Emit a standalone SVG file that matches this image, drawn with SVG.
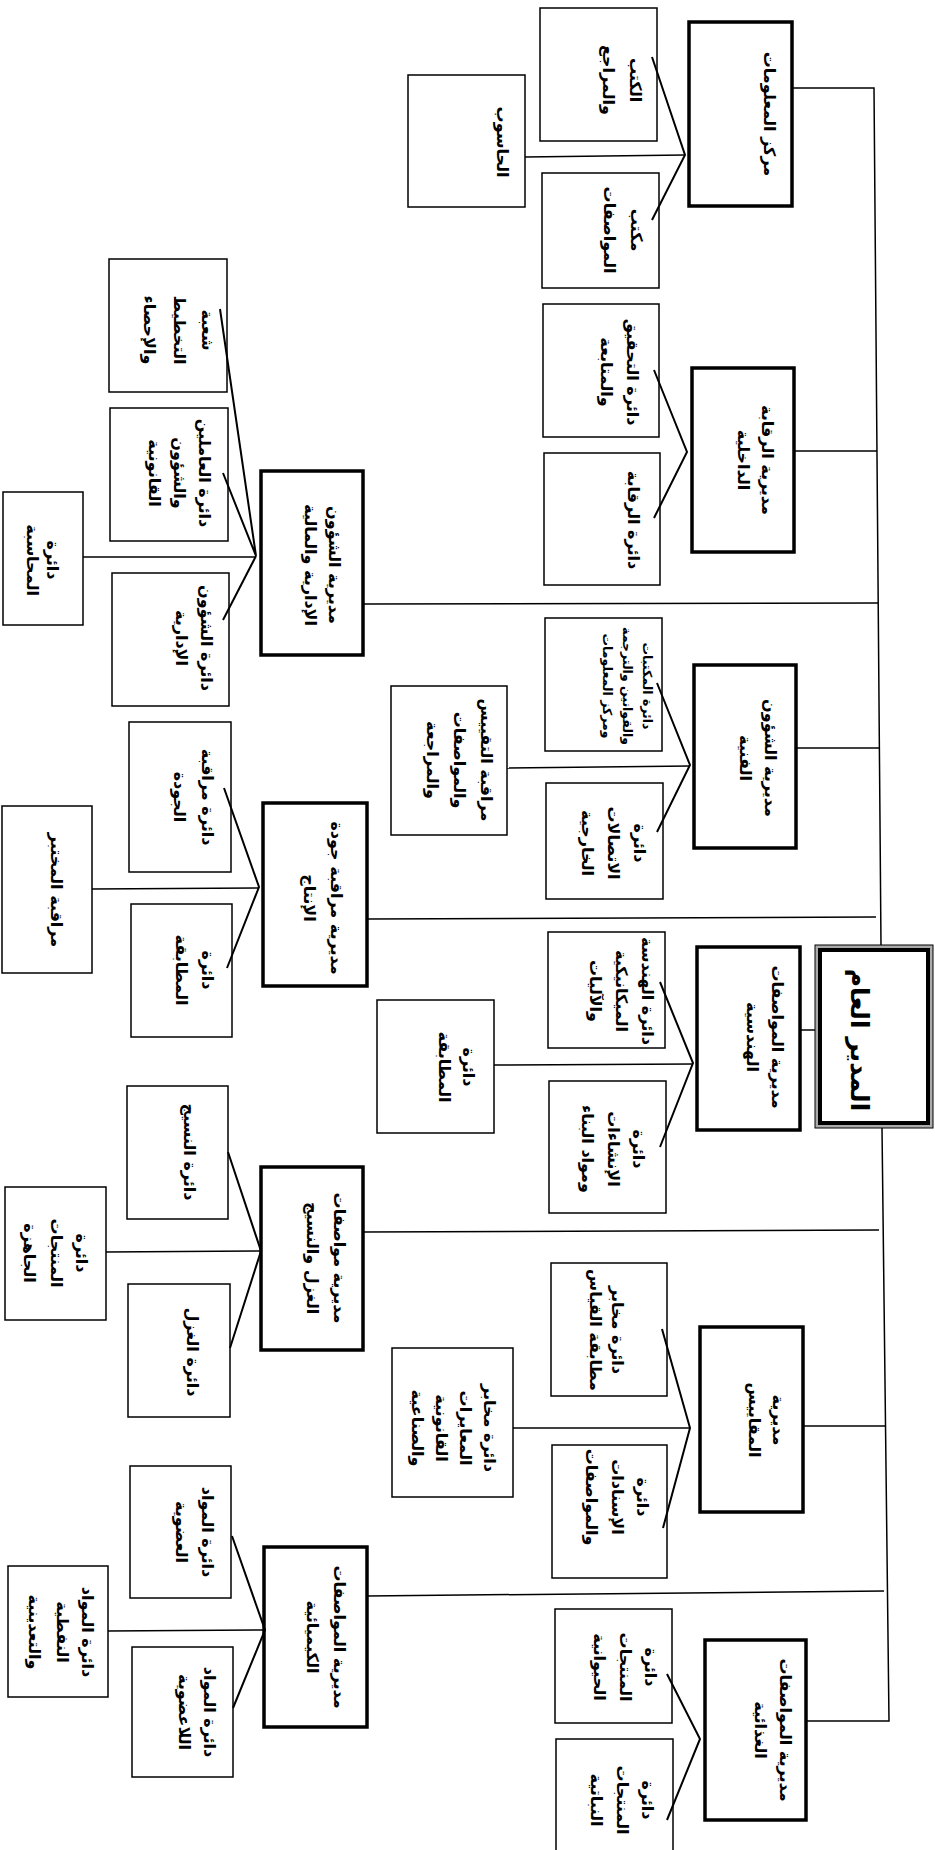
<svg xmlns="http://www.w3.org/2000/svg" width="935" height="1850" viewBox="0 0 935 1850">
<style>
rect{fill:#fff;stroke:#000}
.dir{stroke-width:3.5}
.box{stroke-width:1.5}
.ln{fill:none;stroke:#000;stroke-width:1.5}
.fk{fill:none;stroke:#000;stroke-width:2}
text{font-family:"DejaVu Sans",sans-serif;font-size:16px;font-weight:bold;text-anchor:middle;dominant-baseline:central;fill:#000}
.sm{font-size:12.5px}
.gm{font-size:25px}
</style>
<rect x="0" y="0" width="935" height="1850" style="stroke:none"/>
<g id="n-center"><rect class="dir" x="689" y="22" width="103" height="184"/><text transform="translate(770,114) rotate(90)"><tspan x="0" y="0">مركز المعلومات</tspan></text></g>
<g id="n-books"><rect class="box" x="540" y="8" width="117" height="133"/><text transform="translate(636,80) rotate(90)"><tspan x="0" y="0">الكتب</tspan><tspan x="0" y="27">والمراجع</tspan></text></g>
<g id="n-specoffice"><rect class="box" x="542" y="173" width="117" height="115"/><text transform="translate(637,230) rotate(90)"><tspan x="0" y="0">مكتب</tspan><tspan x="0" y="27">المواصفات</tspan></text></g>
<g id="n-computer"><rect class="box" x="408" y="75" width="117" height="132"/><text transform="translate(503,142) rotate(90)"><tspan x="0" y="0">الحاسوب</tspan></text></g>

<g id="n-audit"><rect class="dir" x="692" y="368" width="102" height="184"/><text transform="translate(768,460) rotate(90)"><tspan x="0" y="0">مديرية الرقابة</tspan><tspan x="0" y="24">الداخلية</tspan></text></g>
<g id="n-investigation"><rect class="box" x="543" y="304" width="116" height="133"/><text transform="translate(633,372) rotate(90)"><tspan x="0" y="0">دائرة التحقيق</tspan><tspan x="0" y="26">والمتابعة</tspan></text></g>
<g id="n-control"><rect class="box" x="544" y="453" width="116" height="132"/><text transform="translate(634,520) rotate(90)"><tspan x="0" y="0">دائرة الرقابة</tspan></text></g>

<g id="n-technical"><rect class="dir" x="694" y="665" width="102" height="183"/><text transform="translate(771,758) rotate(90)"><tspan x="0" y="0">مديرية الشؤون</tspan><tspan x="0" y="25">الفنية</tspan></text></g>
<g id="n-libraries"><rect class="box" x="545" y="618" width="117" height="133"/><text class="sm" transform="translate(648,686) rotate(90)"><tspan x="0" y="0">دائرة المكتبات</tspan><tspan x="0" y="20">والقوانين والترجمة</tspan><tspan x="0" y="40">ومركز المعلومات</tspan></text></g>
<g id="n-external"><rect class="box" x="546" y="783" width="117" height="116"/><text transform="translate(640,843) rotate(90)"><tspan x="0" y="0">دائرة</tspan><tspan x="0" y="26">الاتصالات</tspan><tspan x="0" y="52">الخارجية</tspan></text></g>
<g id="n-stdreview"><rect class="box" x="391" y="686" width="116" height="149"/><text transform="translate(487,760) rotate(90)"><tspan x="0" y="0">مراقبة التقييس</tspan><tspan x="0" y="27">والمواصفات</tspan><tspan x="0" y="54">والمراجعة</tspan></text></g>

<g id="n-engineering"><rect class="dir" x="697" y="947" width="103" height="183"/><text transform="translate(778,1037) rotate(90)"><tspan x="0" y="0">مديرية المواصفات</tspan><tspan x="0" y="25">الهندسية</tspan></text></g>
<g id="n-mech"><rect class="box" x="548" y="932" width="117" height="116"/><text transform="translate(648,991) rotate(90)"><tspan x="0" y="0">دائرة الهندسة</tspan><tspan x="0" y="26">الميكانيكية</tspan><tspan x="0" y="52">والآليات</tspan></text></g>
<g id="n-construction"><rect class="box" x="549" y="1081" width="117" height="132"/><text transform="translate(639,1149) rotate(90)"><tspan x="0" y="0">دائرة</tspan><tspan x="0" y="25">الإنشاءات</tspan><tspan x="0" y="51">ومواد البناء</tspan></text></g>
<g id="n-conformity-eng"><rect class="box" x="377" y="1000" width="117" height="133"/><text transform="translate(469,1067) rotate(90)"><tspan x="0" y="0">دائرة</tspan><tspan x="0" y="24">المطابقة</tspan></text></g>

<g id="n-gm"><rect x="815" y="945" width="118" height="183" style="fill:#aaa;stroke-width:1"/><rect x="820" y="950" width="108" height="173" style="stroke-width:4"/><text class="gm" transform="translate(860,1040) rotate(90)"><tspan x="0" y="0">المدير العام</tspan></text></g>

<g id="n-metrology"><rect class="dir" x="700" y="1327" width="103" height="185"/><text transform="translate(779,1420) rotate(90)"><tspan x="0" y="0">مديرية</tspan><tspan x="0" y="24">المقاييس</tspan></text></g>
<g id="n-measlab"><rect class="box" x="551" y="1263" width="116" height="133"/><text transform="translate(618,1330) rotate(90)"><tspan x="0" y="0">دائرة مخابر</tspan><tspan x="0" y="22">مطابقة القياس</tspan></text></g>
<g id="n-isnad"><rect class="box" x="552" y="1445" width="115" height="133"/><text transform="translate(643,1497) rotate(90)"><tspan x="0" y="0">دائرة</tspan><tspan x="0" y="25">الإسنادات</tspan><tspan x="0" y="51">والمواصفات</tspan></text></g>
<g id="n-calib"><rect class="box" x="392" y="1348" width="121" height="149"/><text transform="translate(490,1428) rotate(90)"><tspan x="0" y="0">دائرة مخابر</tspan><tspan x="0" y="24">المعايرات</tspan><tspan x="0" y="48">القانونية</tspan><tspan x="0" y="72">والصناعية</tspan></text></g>

<g id="n-food"><rect class="dir" x="705" y="1640" width="101" height="180"/><text transform="translate(786,1730) rotate(90)"><tspan x="0" y="0">مديرية المواصفات</tspan><tspan x="0" y="25">الغذائية</tspan></text></g>
<g id="n-animal"><rect class="box" x="555" y="1609" width="117" height="114"/><text transform="translate(651,1667) rotate(90)"><tspan x="0" y="0">دائرة</tspan><tspan x="0" y="25">المنتجات</tspan><tspan x="0" y="51">الحيوانية</tspan></text></g>
<g id="n-plant"><rect class="box" x="556" y="1739" width="117" height="120"/><text transform="translate(648,1800) rotate(90)"><tspan x="0" y="0">دائرة</tspan><tspan x="0" y="25">المنتجات</tspan><tspan x="0" y="51">النباتية</tspan></text></g>

<g id="n-admin"><rect class="dir" x="261" y="471" width="102" height="184"/><text transform="translate(335,565) rotate(90)"><tspan x="0" y="0">مديرية الشؤون</tspan><tspan x="0" y="24">الإدارية والمالية</tspan></text></g>
<g id="n-planning"><rect class="box" x="109" y="259" width="118" height="133"/><text transform="translate(208,330) rotate(90)"><tspan x="0" y="0">شعبة</tspan><tspan x="0" y="28">التخطيط</tspan><tspan x="0" y="58">والإحصاء</tspan></text></g>
<g id="n-staff"><rect class="box" x="110" y="408" width="118" height="133"/><text transform="translate(205,473) rotate(90)"><tspan x="0" y="0">دائرة العاملين</tspan><tspan x="0" y="25">والشؤون</tspan><tspan x="0" y="50">القانونية</tspan></text></g>
<g id="n-adminaff"><rect class="box" x="112" y="573" width="117" height="133"/><text transform="translate(207,638) rotate(90)"><tspan x="0" y="0">دائرة الشؤون</tspan><tspan x="0" y="25">الإدارية</tspan></text></g>
<g id="n-accounting"><rect class="box" x="3" y="492" width="80" height="133"/><text transform="translate(53,560) rotate(90)"><tspan x="0" y="0">دائرة</tspan><tspan x="0" y="20">المحاسبة</tspan></text></g>

<g id="n-quality"><rect class="dir" x="263" y="803" width="104" height="183"/><text transform="translate(337,898) rotate(90)"><tspan x="0" y="0">مديرية مراقبة جودة</tspan><tspan x="0" y="27">الإنتاج</tspan></text></g>
<g id="n-qc"><rect class="box" x="129" y="722" width="102" height="150"/><text transform="translate(208,797) rotate(90)"><tspan x="0" y="0">دائرة مراقبة</tspan><tspan x="0" y="28">الجودة</tspan></text></g>
<g id="n-conformity-q"><rect class="box" x="131" y="904" width="101" height="133"/><text transform="translate(208,970) rotate(90)"><tspan x="0" y="0">دائرة</tspan><tspan x="0" y="26">المطابقة</tspan></text></g>
<g id="n-labctrl"><rect class="box" x="2" y="806" width="90" height="167"/><text transform="translate(57,890) rotate(90)"><tspan x="0" y="0">مراقبة المختبر</tspan></text></g>

<g id="n-textile"><rect class="dir" x="261" y="1167" width="102" height="183"/><text transform="translate(340,1258) rotate(90)"><tspan x="0" y="0">مديرية مواصفات</tspan><tspan x="0" y="27">الغزل والنسيج</tspan></text></g>
<g id="n-weaving"><rect class="box" x="127" y="1086" width="101" height="133"/><text transform="translate(190,1152) rotate(90)"><tspan x="0" y="0">دائرة النسيج</tspan></text></g>
<g id="n-spinning"><rect class="box" x="128" y="1284" width="102" height="133"/><text transform="translate(193,1352) rotate(90)"><tspan x="0" y="0">دائرة الغزل</tspan></text></g>
<g id="n-ready"><rect class="box" x="5" y="1187" width="101" height="133"/><text transform="translate(82,1253) rotate(90)"><tspan x="0" y="0">دائرة</tspan><tspan x="0" y="25">المنتجات</tspan><tspan x="0" y="52">الجاهزة</tspan></text></g>

<g id="n-chemical"><rect class="dir" x="264" y="1547" width="103" height="180"/><text transform="translate(340,1637) rotate(90)"><tspan x="0" y="0">مديرية المواصفات</tspan><tspan x="0" y="27">الكيميائية</tspan></text></g>
<g id="n-organic"><rect class="box" x="130" y="1466" width="101" height="132"/><text transform="translate(208,1532) rotate(90)"><tspan x="0" y="0">دائرة المواد</tspan><tspan x="0" y="26">العضوية</tspan></text></g>
<g id="n-inorganic"><rect class="box" x="132" y="1647" width="101" height="130"/><text transform="translate(210,1712) rotate(90)"><tspan x="0" y="0">دائرة المواد</tspan><tspan x="0" y="25">اللاعضوية</tspan></text></g>
<g id="n-oil"><rect class="box" x="8" y="1566" width="100" height="131"/><text transform="translate(88,1632) rotate(90)"><tspan x="0" y="0">دائرة المواد</tspan><tspan x="0" y="25">النفطية</tspan><tspan x="0" y="53">والتعدينية</tspan></text></g>

<g id="connectors">
<polyline class="ln" points="792,88 874,88 881,945"/>
<polyline class="ln" points="882,1128 889,1721 806,1721"/>
<line class="ln" x1="794" y1="451" x2="877" y2="451"/>
<line class="ln" x1="796" y1="748" x2="879" y2="748"/>
<line class="ln" x1="800" y1="1030" x2="815" y2="1030"/>
<line class="ln" x1="803" y1="1426" x2="885" y2="1426"/>
<line class="ln" x1="363" y1="604" x2="878" y2="603"/>
<line class="ln" x1="367" y1="919" x2="876" y2="917"/>
<line class="ln" x1="363" y1="1232" x2="879" y2="1230"/>
<line class="ln" x1="367" y1="1596" x2="884" y2="1591"/>
<polyline class="fk" points="652,57 685,155 652,220"/>
<line class="ln" x1="685" y1="155" x2="525" y2="157"/>
<polyline class="fk" points="654,370 687,452 654,518"/>
<polyline class="fk" points="657,683 690,765 657,832"/>
<line class="ln" x1="690" y1="766" x2="507" y2="768"/>
<polyline class="fk" points="660,982 693,1063 660,1147"/>
<line class="ln" x1="693" y1="1064" x2="494" y2="1065"/>
<polyline class="fk" points="662,1329 690,1428 663,1528"/>
<line class="ln" x1="690" y1="1428" x2="513" y2="1428"/>
<polyline class="fk" points="667,1674 700,1739 667,1820"/>
<polyline class="fk" points="220,309 256,556 223,473"/>
<line class="fk" x1="256" y1="556" x2="223" y2="620"/>
<line class="ln" x1="256" y1="557" x2="83" y2="557"/>
<polyline class="fk" points="224,788 259,887 227,968"/>
<line class="ln" x1="259" y1="888" x2="92" y2="889"/>
<polyline class="fk" points="228,1152 261,1251 230,1348"/>
<line class="ln" x1="261" y1="1251" x2="106" y2="1252"/>
<polyline class="fk" points="232,1536 265,1630 233,1708"/>
<line class="ln" x1="265" y1="1630" x2="108" y2="1631"/>
</g>
</svg>
